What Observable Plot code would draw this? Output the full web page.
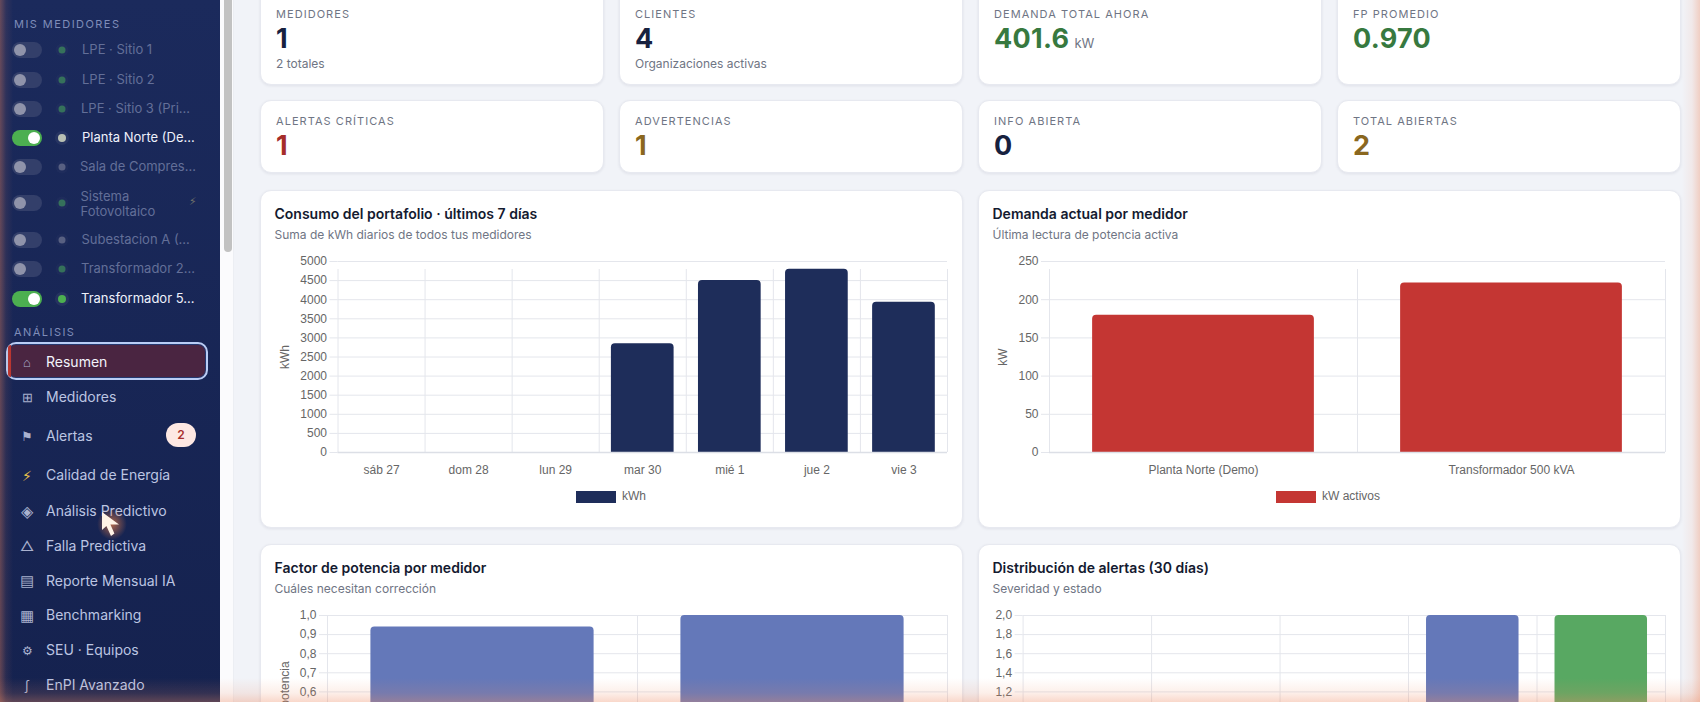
<!DOCTYPE html>
<html lang="es"><head><meta charset="utf-8">
<script src="https://cdn.jsdelivr.net/npm/d3@7"></script>
<script src="https://cdn.jsdelivr.net/npm/@observablehq/plot@0.6"></script>
<style>
html,body{margin:0;padding:0;width:1700px;height:702px;overflow:hidden;background:#f1f3f8;font-family:Inter,"Noto Sans",sans-serif}
#app{position:relative;width:1700px;height:702px;overflow:hidden}
.abs{position:absolute;white-space:nowrap}
#side{position:absolute;left:0;top:0;width:220px;height:702px;background:linear-gradient(#1b2a5c,#15224f)}
#track{position:absolute;left:220px;top:0;width:14px;height:702px;background:#fbfbfd;border-right:1px solid #eceef3;box-sizing:border-box}
#thumb{position:absolute;left:224px;top:-4px;width:8px;height:256px;border-radius:4px;background:#c2c2c2}
.sec{font-size:11px;letter-spacing:1.45px;color:#7f8db9;transform:translateY(-50%)}
.tog{position:absolute;left:12px;width:30px;height:16px;border-radius:8px;background:#333f6a}
.tog i{position:absolute;left:2px;top:2px;width:12px;height:12px;border-radius:50%;background:#8f93aa}
.tog.on{background:#4caf50}.tog.on i{left:16px;background:#fff}
.dot{position:absolute;border-radius:50%;transform:translate(-50%,-50%)}
.mlabel{font-size:13px;color:#636f98;transform:translateY(-50%)}
.mlabel.on{color:#eef1fb}
.nav{font-size:14px;color:#bcc5e2;transform:translateY(-50%)}
.ico{color:#aab2cf;transform:translate(-50%,-50%)}
#active{position:absolute;left:6px;top:342px;width:202px;height:38px;box-sizing:border-box;border:2px solid #b9cdf5;border-radius:10px;background:#4a2541;box-shadow:0 0 0 1px #24386f inset}
#active b{position:absolute;left:0;top:1px;bottom:1px;width:3px;background:#b8332f;border-radius:8px 0 0 8px}
#badge{position:absolute;left:166px;top:423px;width:30px;height:24px;border-radius:12px;background:#fde8e3;color:#a8302c;font-size:12px;font-weight:600;text-align:center;line-height:24px}
.card{position:absolute;background:#fff;border:1px solid #e7e9f0;border-radius:11px;box-shadow:0 1px 3px rgba(20,30,60,.08);box-sizing:border-box}
.klabel{font-size:11px;letter-spacing:1.05px;color:#6f7584;transform:translateY(-50%)}
.kval{font-size:27px;font-weight:700;transform:translateY(-50%);letter-spacing:.3px}
.kval small{font-size:13px;font-weight:400;color:#6f7584;margin-left:5px;letter-spacing:0}
.ksub{font-size:12px;color:#6f7584;transform:translateY(-50%)}
.ctitle{font-size:14px;font-weight:600;color:#141a30;transform:translateY(-50%)}
.csub{font-size:12px;color:#6f7584;transform:translateY(-50%)}
.leg{font:12px "Liberation Sans",sans-serif;color:#666;transform:translateY(-50%)}
.sw{position:absolute;width:40px;height:12px}
.plotbox{position:absolute}
.plotbox svg{display:block;overflow:visible}
#glow{position:absolute;left:0;top:0;width:1700px;height:702px;pointer-events:none;background:
linear-gradient(to top,rgba(238,140,100,.34),rgba(238,140,100,.14) 9px,rgba(238,140,100,0) 24px),
linear-gradient(to left,rgba(238,140,100,.36),rgba(238,140,100,.1) 8px,rgba(238,140,100,0) 18px),
linear-gradient(to right,rgba(225,125,90,.38),rgba(225,125,90,.1) 6px,rgba(225,125,90,0) 13px)}
#cursor{position:absolute;left:102px;top:512px;width:20px;height:24px;background:#fff3e6;clip-path:polygon(0 0,0 75%,22% 58%,45% 100%,62% 90%,42% 52%,85% 52%);}
#cglow{position:absolute;left:97px;top:508px;width:30px;height:32px;border-radius:50%;background:radial-gradient(rgba(240,130,70,.7),rgba(240,130,70,0) 70%)}
</style></head><body><div id="app"></div>
<script>
// ---- data ----
const meterNames=["LPE · Sitio 1","LPE · Sitio 2","LPE · Sitio 3 (Pri...","Planta Norte (De...","Sala de Compres...","Sistema Fotovoltaico","Subestacion A (...","Transformador 2...","Transformador 5..."];
const meterOn=[false,false,false,true,false,false,false,false,true];
const meterDot=["#3f8a5c","#3f8a5c","#3f8a5c","#b9c0b4","#6d7390","#3f8a5c","#6d7390","#3f8a5c","#4caf50"];
const navLabels=["Resumen","Medidores","Alertas","Calidad de Energía","Análisis Predictivo","Falla Predictiva","Reporte Mensual IA","Benchmarking","SEU · Equipos","EnPI Avanzado"];
const navIcons=["⌂","⊞","⚑","⚡\uFE0E","◈","△","▤","▦","⚙\uFE0E","∫"];
const navIconSizes=[13,13,13,14,16,14,15,15,12,13];
const kpiLabels=["MEDIDORES","CLIENTES","DEMANDA TOTAL AHORA","FP PROMEDIO","ALERTAS CRÍTICAS","ADVERTENCIAS","INFO ABIERTA","TOTAL ABIERTAS"];
const kpiValues=["1","4","401.6","0.970","1","1","0","2"];
const kpiUnits=["","","kW","","","","",""];
const kpiSubs=["2 totales","Organizaciones activas","","","","","",""];
const kpiColors=["#17213f","#17213f","#37793f","#37793f","#a52d2a","#8a671f","#17213f","#8a671f"];

const dayLabels=["sáb 27","dom 28","lun 29","mar 30","mié 1","jue 2","vie 3"];
const dayKwh=[0,0,0,2850,4500,4800,3930];
const kwhTicks=[0,500,1000,1500,2000,2500,3000,3500,4000,4500,5000];
const meterLabels=["Planta Norte (Demo)","Transformador 500 kVA"];
const meterKw=[179.6,222];
const kwTicks=[0,50,100,150,200,250];
const meterPf=[0.94,1.0];
const pfTicks=[0.6,0.7,0.8,0.9,1.0];      // the lower ticks fall below the visible picture
const pfDomain=[0,1];
const alertBins=["a","b","c","d","e"];    // names fall below the visible picture
const alertCounts=[0,0,0,2,2];
const alertColors=["#c43633","#c08a2e","#6478b9","#6478b9","#58a862"];
const alertTicks=[1.2,1.4,1.6,1.8,2.0];
const alertDomain=[0,2];

// ---- page ----
const app=document.getElementById("app");
function el(tag,cls,style,html){const e=document.createElement(tag);if(cls)e.className=cls;if(style)Object.assign(e.style,style);if(html!=null)e.innerHTML=html;app.appendChild(e);return e;}
const px=v=>v+"px";
el("div",null,{},"").id="side";
el("div",null,{},"").id="track";
el("div",null,{},"").id="thumb";
el("div","abs sec",{left:"14px",top:"24px"},"MIS MEDIDORES");
const meterY=[50,79.5,109,138,167,203,240,269,298.5];
const meterX=[82,82,81,82,80,80.5,81.5,81,81];
meterNames.forEach((n,i)=>{
  const y=meterY[i],on=meterOn[i];
  el("div","tog"+(on?" on":""),{top:px(y-8)},"<i></i>");
  el("div","dot",{left:"62px",top:px(y),width:on?"8px":"7px",height:on?"8px":"7px",background:meterDot[i],opacity:on?1:.75,boxShadow:on?"0 0 0 3px rgba(255,255,255,.06)":"0 0 0 3px rgba(255,255,255,.03)"});
  if(i===5){
    el("div","abs mlabel",{left:px(meterX[i]),top:px(y+1),whiteSpace:"normal",width:"90px",lineHeight:"15px"},n);
    el("div","abs",{left:"189px",top:px(y-9),fontSize:"11px",color:"#6d6f6a"},"⚡\uFE0E");
  } else el("div","abs mlabel"+(on?" on":""),{left:px(meterX[i]),top:px(y-1)},n);
});
el("div","abs sec",{left:"14px",top:"332px"},"ANÁLISIS");
el("div",null,{},"<b></b>").id="active";
const navY=[361,396,435,474,510,544.5,579.5,614,649,684];
navLabels.forEach((n,i)=>{
  el("div","abs ico",{left:"27px",top:px(navY[i]+.5),fontSize:px(navIconSizes[i]),color:i===3?"#e8c04c":null},navIcons[i]);
  el("div","abs nav",{left:"46px",top:px(navY[i]),color:i===0?"#f3f4fb":null},n);
});
el("div",null,{},"2").id="badge";
el("div",null,{}).id="cglow";
el("div",null,{}).id="cursor";

const colX=[260,619,978,1337],cardW=343;
const kpiRows=[{top:-20,h:105,l:14,v:38,s:62.5},{top:100,h:73,l:121,v:144.5,s:0}];
kpiLabels.forEach((t,i)=>{
  const c=colX[i%4],r=kpiRows[i>3?1:0],x=c+16;
  el("div","card",{left:px(c-.5),top:px(r.top),width:px(cardW+1),height:px(r.h)});
  el("div","abs klabel",{left:px(x),top:px(r.l)},t);
  el("div","abs kval",{left:px(x),top:px(r.v),color:kpiColors[i]},kpiValues[i]+(kpiUnits[i]?`<small>${kpiUnits[i]}</small>`:""));
  if(kpiSubs[i])el("div","abs ksub",{left:px(x),top:px(r.s)},kpiSubs[i]);
});

const comma=d=>d.toFixed(1).replace(".",",");
const plain=d3.format("d");
function chart(o){
  const c=o.x0,top=o.y0;
  el("div","card",{left:px(c-.5),top:px(top),width:px(703),height:px(338)});
  el("div","abs ctitle",{left:px(c+14.5),top:px(top+22.5)},o.title);
  el("div","abs csub",{left:px(c+14.5),top:px(top+44)},o.sub);
  const width=702,height=240,mR=15,mT=16,mB=33;
  const band=(width-o.mL-mR)/o.cats.length;
  const data=o.cats.map((k,i)=>({k,v:o.vals[i],c:o.colors[i]}));
  const dom=o.domain||[0,o.ticks[o.ticks.length-1]];
  const ymax=dom[1];
  const grid="#e4e6ec";
  const marks=[
    Plot.gridY(o.ticks,{stroke:grid,strokeOpacity:1}),
    Plot.ruleX(o.cats,{x:d=>d,y1:0,y2:ymax,dx:-band/2,insetBottom:o.hideX?0:-8,stroke:grid}),
    Plot.ruleX(o.cats.slice(-1),{x:d=>d,y1:0,y2:ymax,dx:band/2,insetBottom:o.hideX?0:-8,stroke:grid}),
    Plot.barY(data,{x:"k",y:"v",fill:"c",insetLeft:band*0.14,insetRight:band*0.14,ry1:4}),
    Plot.ruleY([0],{stroke:"#dcdfe6",strokeWidth:1.5}),
    Plot.axisY({ticks:o.ticks,tickFormat:o.fmt,tickSize:8,tickPadding:3,label:o.ylabel,labelAnchor:"center",labelArrow:"none",labelOffset:o.mL-20,fill:"#666",stroke:grid})
  ];
  if(!o.hideX)marks.push(Plot.axisX({tickSize:0,tickPadding:12.5,label:null,fill:"#666"}));
  const svg=Plot.plot({width,height,marginLeft:o.mL,marginRight:mR,marginTop:mT,marginBottom:mB,
    style:{fontFamily:"'Liberation Sans',sans-serif",fontSize:"12px",background:"transparent",overflow:"visible"},
    x:{type:"band",domain:o.cats,padding:0,round:false,axis:null},
    y:{domain:dom,axis:null},color:{type:"identity"},marks});
  const box=el("div","plotbox",{left:px(c),top:px(top+55)});box.appendChild(svg);
  if(o.legend){
    el("div","sw",{left:px(o.swX+1),top:px(top+300.5),background:o.colors[0]});
    el("div","abs leg",{left:px(o.swX+47),top:px(top+306)},o.legend);
  }
}
chart({x0:260,y0:190,mL:77.5,title:"Consumo del portafolio · últimos 7 días",sub:"Suma de kWh diarios de todos tus medidores",cats:dayLabels,vals:dayKwh,colors:dayLabels.map(()=>"#1e2d5a"),ticks:kwhTicks,fmt:plain,ylabel:"kWh",legend:"kWh",swX:575});
chart({x0:978,y0:190,mL:71,title:"Demanda actual por medidor",sub:"Última lectura de potencia activa",cats:meterLabels,vals:meterKw,colors:meterLabels.map(()=>"#c43633"),ticks:kwTicks,fmt:plain,ylabel:"kW",legend:"kW activos",swX:1275});
chart({x0:260,y0:544,mL:67,title:"Factor de potencia por medidor",sub:"Cuáles necesitan corrección",cats:meterLabels,vals:meterPf,colors:meterLabels.map(()=>"#6478b9"),ticks:pfTicks,domain:pfDomain,fmt:comma,ylabel:"Factor de potencia",hideX:true});
chart({x0:978,y0:544,mL:44.6,title:"Distribución de alertas (30 días)",sub:"Severidad y estado",cats:alertBins,vals:alertCounts,colors:alertColors,ticks:alertTicks,domain:alertDomain,fmt:comma,ylabel:null,hideX:true});
el("div",null,{}).id="glow";
</script></body></html>
